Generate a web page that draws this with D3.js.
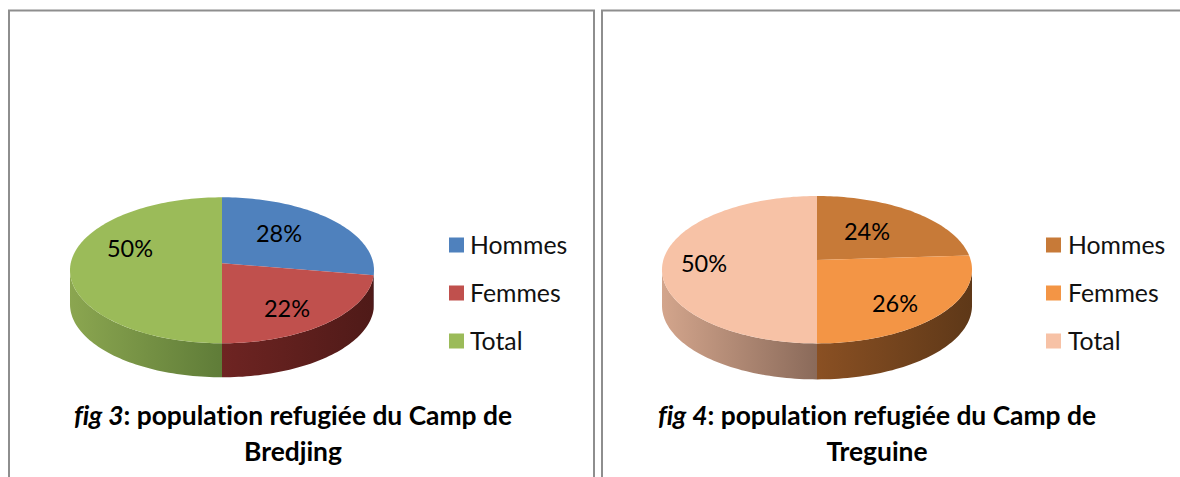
<!DOCTYPE html>
<html><head><meta charset="utf-8">
<style>html,body{margin:0;padding:0;background:#fff;overflow:hidden}svg{display:block}text{font-variant-ligatures:none;font-feature-settings:"liga" 0}</style>
<script src="https://cdn.jsdelivr.net/npm/d3@7"></script></head>
<body><svg id="c" width="1180" height="477"></svg>
<script>
const categories = ["Hommes","Femmes","Total"];
const valuesBredjing = [27.6,22.4,50];
const valuesTreguine = [24,26,50];
const colorsBredjing = ["#4f81bd","#c0504d","#9bbb59"];
const colorsTreguine = ["#c77a38","#f39545","#f7c2a6"];
const wallsBredjing = [["#3a5f8c","#3a5f8c"],["#6e2422","#4f1a18"],["#8ba650","#5f7c38"]];
const wallsTreguine = [["#7a4a20","#7a4a20"],["#8a5023","#5e3818"],["#d3a58c","#8a6a5a"]];
const figures = ["fig 3","fig 4"];
const titleLines = [[": population refugiée du Camp de","Bredjing"],[": population refugiée du Camp de","Treguine"]];

const svg = d3.select("#c");
const defs = svg.append("defs");
const FONT = "Lato, Carlito, sans-serif";

// panel frames
const frames = [{x:9,w:585},{x:602,w:600}];
frames.forEach(f=>{
  svg.append("path").attr("d",`M${f.x},490V10.5H${f.x+f.w}V490`).attr("fill","none").attr("stroke","#8e8e8e").attr("stroke-width",2);
});

const panels = [
 {id:"a",values:valuesBredjing,colors:colorsBredjing,walls:wallsBredjing,cx:222,cy:270.3,rx:152,ry:73,k:0.096,depth:34,
  labels:[[279,234],[287,309],[130,249]],legX:449,legTextX:470,legY:[245,293,341],titleCx:293,fig:0},
 {id:"b",values:valuesTreguine,colors:colorsTreguine,walls:wallsTreguine,cx:817,cy:269.7,rx:155,ry:73.7,k:0.13,depth:36,
  labels:[[867,232],[895,304],[704,264]],legX:1046,legTextX:1068,legY:[245,293,341],titleCx:877,fig:1}
];

panels.forEach(p=>{
  const g = svg.append("g");
  const arcs = d3.pie().sort(null).value(d=>d)(p.values);
  // perspective projection of the pie's circle rim
  const sx = d3.scaleLinear().domain([-1,1]).range([p.cx-p.rx,p.cx+p.rx]);
  const sy = d3.scaleLinear().domain([-1,1]).range([p.cy+p.ry,p.cy-p.ry]);
  const rim = a=>{
    const x=Math.sin(a), y=Math.cos(a), d=1+p.k*y;
    return [sx(x*Math.sqrt(1-p.k*p.k)/d), sy((y+p.k)/d)];
  };
  const apex = [sx(0),sy(p.k)];
  const line = d3.line();
  const samples=(a0,a1)=>{const n=Math.max(2,Math.ceil((a1-a0)*40));return d3.range(n+1).map(i=>a0+(a1-a0)*i/n);};

  const frontStart = Math.acos(-p.k), frontEnd = 2*Math.PI-frontStart;

  arcs.forEach((d,i)=>{
    const a0=Math.max(d.startAngle,frontStart), a1=Math.min(d.endAngle,frontEnd);
    if(a1<=a0) return;
    const id=`w${p.id}${i}`;
    const pts=samples(a0,a1).map(rim);
    const xs=pts.map(q=>q[0]);
    const lg=defs.append("linearGradient").attr("id",id).attr("gradientUnits","userSpaceOnUse")
      .attr("x1",d3.min(xs)).attr("x2",d3.max(xs)).attr("y1",0).attr("y2",0);
    lg.append("stop").attr("offset",0).attr("stop-color",p.walls[i][0]);
    lg.append("stop").attr("offset",1).attr("stop-color",p.walls[i][1]);
    const low=pts.map(q=>[q[0],q[1]+p.depth]).reverse();
    g.append("path").attr("d",line(pts.concat(low))+"Z").attr("fill",`url(#${id})`);
  });
  arcs.forEach((d,i)=>{
    const pts=[apex].concat(samples(d.startAngle,d.endAngle).map(rim));
    g.append("path").attr("d",line(pts)+"Z").attr("fill",p.colors[i]);
  });
  // labels
  arcs.forEach((d,i)=>{
    g.append("text").attr("x",p.labels[i][0]).attr("y",p.labels[i][1]).attr("dy","0.35em").attr("text-anchor","middle")
      .attr("font-family",FONT).attr("font-size",23.5).attr("fill","#000").text(d3.format(".0f")(d.value)+"%");
  });
  // legend
  categories.forEach((c,i)=>{
    g.append("rect").attr("x",p.legX).attr("y",p.legY[i]-7.5).attr("width",15).attr("height",15).attr("fill",p.colors[i]);
    g.append("text").attr("x",p.legTextX).attr("y",p.legY[i]).attr("dy","0.35em")
      .attr("font-family",FONT).attr("font-size",24.8).attr("fill","#111").text(c);
  });
  // title
  const t=g.append("text").attr("x",p.titleCx).attr("y",425).attr("text-anchor","middle")
    .attr("font-family",FONT).attr("font-size",26.4).attr("font-weight",700).attr("fill","#000");
  t.append("tspan").attr("font-style","italic").text(figures[p.fig]);
  t.append("tspan").text(titleLines[p.fig][0]);
  g.append("text").attr("x",p.titleCx).attr("y",461).attr("text-anchor","middle")
    .attr("font-family",FONT).attr("font-size",26.4).attr("font-weight",700).attr("fill","#000").text(titleLines[p.fig][1]);
});
</script></body></html>
